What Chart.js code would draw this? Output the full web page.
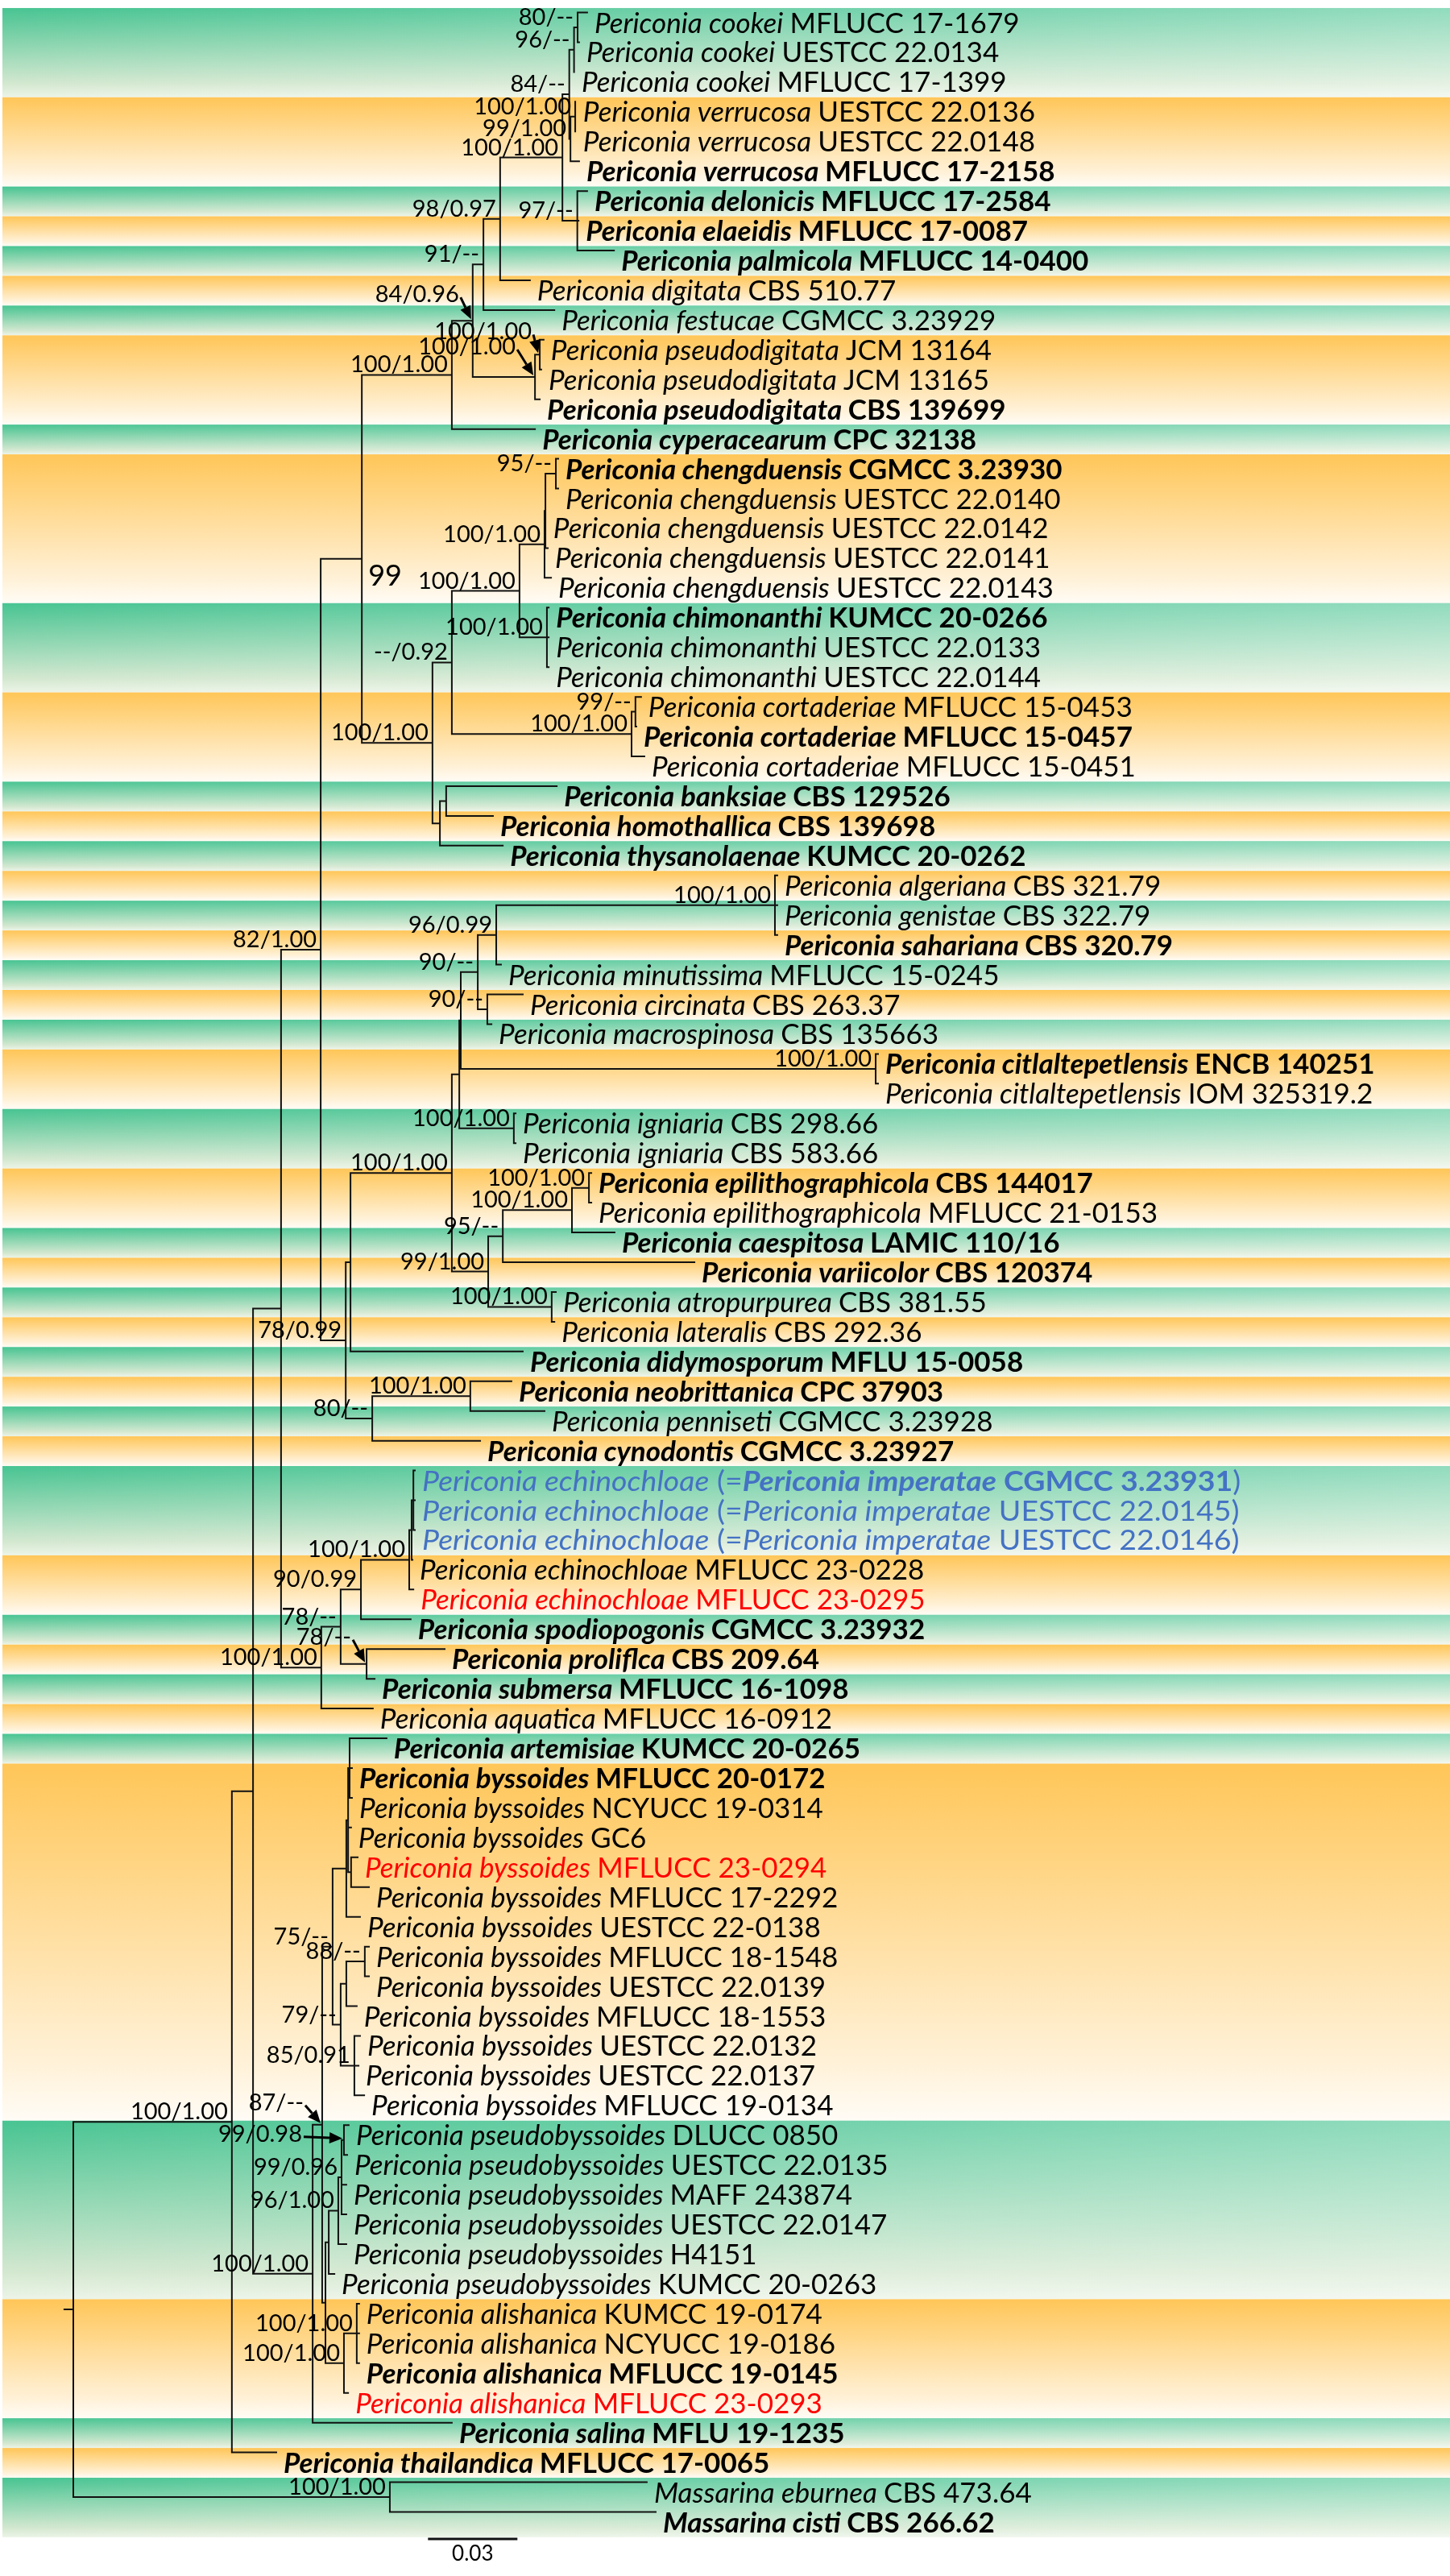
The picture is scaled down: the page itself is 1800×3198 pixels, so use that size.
<!DOCTYPE html>
<html>
<head>
<meta charset="utf-8">
<title>Periconia phylogeny</title>
<script src="https://cdn.jsdelivr.net/npm/chart.js@4.4.0/dist/chart.umd.min.js"></script>
<style>
  body { margin: 0; background: #fff; }
  #treeChart { display: block; }
</style>
</head>
<body>
<canvas id="treeChart" width="1800" height="3198"></canvas>
<script>
// tips, top to bottom
const taxa = [
  'Periconia cookei', 'Periconia cookei', 'Periconia cookei',
  'Periconia verrucosa', 'Periconia verrucosa', 'Periconia verrucosa',
  'Periconia delonicis', 'Periconia elaeidis', 'Periconia palmicola',
  'Periconia digitata', 'Periconia festucae',
  'Periconia pseudodigitata', 'Periconia pseudodigitata', 'Periconia pseudodigitata',
  'Periconia cyperacearum',
  'Periconia chengduensis', 'Periconia chengduensis', 'Periconia chengduensis', 'Periconia chengduensis', 'Periconia chengduensis',
  'Periconia chimonanthi', 'Periconia chimonanthi', 'Periconia chimonanthi',
  'Periconia cortaderiae', 'Periconia cortaderiae', 'Periconia cortaderiae',
  'Periconia banksiae', 'Periconia homothallica', 'Periconia thysanolaenae',
  'Periconia algeriana', 'Periconia genistae', 'Periconia sahariana',
  'Periconia minutissima', 'Periconia circinata', 'Periconia macrospinosa',
  'Periconia citlaltepetlensis', 'Periconia citlaltepetlensis',
  'Periconia igniaria', 'Periconia igniaria',
  'Periconia epilithographicola', 'Periconia epilithographicola',
  'Periconia caespitosa', 'Periconia variicolor',
  'Periconia atropurpurea', 'Periconia lateralis', 'Periconia didymosporum',
  'Periconia neobrittanica', 'Periconia penniseti', 'Periconia cynodontis',
  'Periconia echinochloae', 'Periconia echinochloae', 'Periconia echinochloae', 'Periconia echinochloae', 'Periconia echinochloae',
  'Periconia spodiopogonis', 'Periconia proliflca', 'Periconia submersa', 'Periconia aquatica',
  'Periconia artemisiae',
  'Periconia byssoides', 'Periconia byssoides', 'Periconia byssoides', 'Periconia byssoides',
  'Periconia byssoides', 'Periconia byssoides', 'Periconia byssoides', 'Periconia byssoides',
  'Periconia byssoides', 'Periconia byssoides', 'Periconia byssoides', 'Periconia byssoides',
  'Periconia pseudobyssoides', 'Periconia pseudobyssoides', 'Periconia pseudobyssoides',
  'Periconia pseudobyssoides', 'Periconia pseudobyssoides', 'Periconia pseudobyssoides',
  'Periconia alishanica', 'Periconia alishanica', 'Periconia alishanica', 'Periconia alishanica',
  'Periconia salina', 'Periconia thailandica',
  'Massarina eburnea', 'Massarina cisti'
];

const strains = [
  'MFLUCC 17-1679', 'UESTCC 22.0134', 'MFLUCC 17-1399',
  'UESTCC 22.0136', 'UESTCC 22.0148', 'MFLUCC 17-2158',
  'MFLUCC 17-2584', 'MFLUCC 17-0087', 'MFLUCC 14-0400',
  'CBS 510.77', 'CGMCC 3.23929',
  'JCM 13164', 'JCM 13165', 'CBS 139699',
  'CPC 32138',
  'CGMCC 3.23930', 'UESTCC 22.0140', 'UESTCC 22.0142', 'UESTCC 22.0141', 'UESTCC 22.0143',
  'KUMCC 20-0266', 'UESTCC 22.0133', 'UESTCC 22.0144',
  'MFLUCC 15-0453', 'MFLUCC 15-0457', 'MFLUCC 15-0451',
  'CBS 129526', 'CBS 139698', 'KUMCC 20-0262',
  'CBS 321.79', 'CBS 322.79', 'CBS 320.79',
  'MFLUCC 15-0245', 'CBS 263.37', 'CBS 135663',
  'ENCB 140251', 'IOM 325319.2',
  'CBS 298.66', 'CBS 583.66',
  'CBS 144017', 'MFLUCC 21-0153',
  'LAMIC 110/16', 'CBS 120374',
  'CBS 381.55', 'CBS 292.36', 'MFLU 15-0058',
  'CPC 37903', 'CGMCC 3.23928', 'CGMCC 3.23927',
  'CGMCC 3.23931', 'UESTCC 22.0145', 'UESTCC 22.0146', 'MFLUCC 23-0228', 'MFLUCC 23-0295',
  'CGMCC 3.23932', 'CBS 209.64', 'MFLUCC 16-1098', 'MFLUCC 16-0912',
  'KUMCC 20-0265',
  'MFLUCC 20-0172', 'NCYUCC 19-0314', 'GC6', 'MFLUCC 23-0294',
  'MFLUCC 17-2292', 'UESTCC 22-0138', 'MFLUCC 18-1548', 'UESTCC 22.0139',
  'MFLUCC 18-1553', 'UESTCC 22.0132', 'UESTCC 22.0137', 'MFLUCC 19-0134',
  'DLUCC 0850', 'UESTCC 22.0135', 'MAFF 243874',
  'UESTCC 22.0147', 'H4151', 'KUMCC 20-0263',
  'KUMCC 19-0174', 'NCYUCC 19-0186', 'MFLUCC 19-0145', 'MFLUCC 23-0293',
  'MFLU 19-1235', 'MFLUCC 17-0065',
  'CBS 473.64', 'CBS 266.62'
];

// distance from the root to each tip (substitutions per site)
const tipDepth = [
  0.1724, 0.1697, 0.1681, 0.1686, 0.1686, 0.1697, 0.1724, 0.1695, 0.1814, 0.1532,
  0.1614, 0.1578, 0.1570, 0.1565, 0.1549, 0.1627, 0.1627, 0.1586, 0.1592, 0.1603,
  0.1595, 0.1595, 0.1595, 0.1905, 0.1889, 0.1916, 0.1622, 0.1408, 0.1441, 0.2362,
  0.2362, 0.2362, 0.1435, 0.1508, 0.1403, 0.2700, 0.2700, 0.1484, 0.1484, 0.1738,
  0.1738, 0.1816, 0.2084, 0.1619, 0.1614, 0.1508, 0.1470, 0.1581, 0.1365, 0.1146,
  0.1146, 0.1146, 0.1138, 0.1141, 0.1132, 0.1246, 0.1011, 0.1005, 0.1051, 0.0935,
  0.0935, 0.0932, 0.0954, 0.0992, 0.0962, 0.0992, 0.0992, 0.0951, 0.0962, 0.0957,
  0.0976, 0.0924, 0.0919, 0.0916, 0.0916, 0.0916, 0.0876, 0.0959, 0.0959, 0.0959,
  0.0922, 0.1270, 0.0681, 0.1924, 0.1954
];

// type strains (bold) and newly added / synonymised strains (coloured)
const boldTips = [5, 6, 7, 8, 13, 14, 15, 20, 24, 26, 27, 28, 31, 35, 39, 41, 42, 45, 46, 48, 54, 55, 56, 58, 59, 79, 81, 82, 84];
const blueTips = [49, 50, 51];
const redTips = [53, 62, 80];
const synonymName = 'Periconia imperatae';

// clades: first tip, last tip, depth of the node, support (ML/BI)
const cladeFirst = [0, 0, 3, 3, 0, 6, 0, 0, 0, 11, 11, 0, 0, 15, 15, 15, 20, 15, 23, 23, 15, 26, 26, 15, 0,
  29, 29, 33, 29, 35, 29, 37, 29, 39, 39, 39, 43, 39, 29, 29, 46, 46, 29, 0,
  49, 49, 49, 49, 55, 49, 49, 0,
  58, 62, 58, 58, 65, 65, 68, 65, 58, 71, 71, 71, 71, 77, 77, 71, 58, 58, 0, 0, 83, 0];
const cladeLast = [1, 2, 4, 5, 5, 8, 8, 9, 10, 12, 13, 13, 14, 16, 18, 19, 22, 22, 24, 25, 25, 27, 28, 28, 28,
  31, 32, 34, 34, 36, 36, 38, 38, 40, 41, 42, 44, 44, 44, 45, 47, 48, 48, 48,
  51, 52, 53, 54, 56, 56, 57, 57,
  60, 63, 63, 64, 66, 67, 70, 70, 70, 72, 74, 75, 76, 79, 80, 80, 80, 81, 81, 82, 84, 84];
const cladeDepth = [0.1692, 0.1680, 0.1684, 0.1668, 0.1664, 0.1691, 0.1641, 0.1432, 0.1376, 0.1565,
  0.1549, 0.1340, 0.1270, 0.1619, 0.1584, 0.1581, 0.1589, 0.1497, 0.1886, 0.1873,
  0.1270, 0.1251, 0.1230, 0.1205, 0.0968,
  0.2354, 0.1419, 0.1389, 0.1357, 0.2692, 0.1300, 0.1478, 0.1295, 0.1730, 0.1673,
  0.1441, 0.1605, 0.1392, 0.1270, 0.0930, 0.1332, 0.1003, 0.0914, 0.0830,
  0.1141, 0.1135, 0.1127, 0.0965, 0.0984, 0.0897, 0.0832, 0.0697,
  0.0927, 0.0932, 0.0922, 0.0916, 0.0978, 0.0916, 0.0943, 0.0897, 0.0870, 0.0908,
  0.0900, 0.0889, 0.0857, 0.0951, 0.0908, 0.0846, 0.0835, 0.0803, 0.0603, 0.0532,
  0.1062, 0];
const cladeSupport = ['80/--', '96/--', '100/1.00', '99/1.00', '84/--', '97/--', '100/1.00', '98/0.97', '91/--', '100/1.00',
  '100/1.00', '84/0.96', '100/1.00', '95/--', '', '100/1.00', '100/1.00', '100/1.00', '99/--', '100/1.00',
  '--/0.92', '', '', '100/1.00', '99',
  '100/1.00', '96/0.99', '90/--', '90/--', '100/1.00', '', '100/1.00', '', '100/1.00', '100/1.00',
  '95/--', '100/1.00', '99/1.00', '100/1.00', '', '100/1.00', '80/--', '78/0.99', '82/1.00',
  '', '', '100/1.00', '90/0.99', '78/--', '78/--', '100/1.00', '',
  '', '', '', '', '88/--', '', '85/0.91', '79/--', '75/--', '99/0.98',
  '99/0.96', '96/1.00', '', '100/1.00', '100/1.00', '', '87/--', '100/1.00', '', '100/1.00',
  '100/1.00', ''];

// first tip of each shaded band (green, orange, green, ...)
const bandStarts = [0, 3, 6, 7, 8, 9, 10, 11, 14, 15, 20, 23, 26, 27, 28, 29, 30, 31, 32, 33, 34, 35, 37, 39,
  41, 42, 43, 44, 45, 46, 47, 48, 49, 52, 54, 55, 56, 57, 58, 59, 71, 77, 81, 82, 83];

// scale bar
const scaleBarStart = 0.119;
const scaleBarLength = 0.03;
const scaleBarLabel = '0.03';

// ---- layout of the tree ----
const nLeaf = taxa.length;
const nClade = cladeFirst.length;
const rootStub = 0.003;
const span = c => cladeLast[c] - cladeFirst[c];

function smallestClade(first, last) {
  let best = -1;
  for (let c = 0; c < nClade; c++) {
    if (cladeFirst[c] <= first && cladeLast[c] >= last && !(cladeFirst[c] === first && cladeLast[c] === last)) {
      if (best < 0 || span(c) < span(best)) best = c;
    }
  }
  return best;
}

const leafParent = taxa.map((t, i) => smallestClade(i, i));
const cladeParent = cladeFirst.map((f, c) => smallestClade(f, cladeLast[c]));
const cladeY = new Array(nClade), cladeTop = new Array(nClade), cladeBottom = new Array(nClade);

// children are always smaller clades, so work upwards from the smallest
const order = cladeFirst.map((f, c) => c).sort((a, b) => span(a) - span(b));
order.forEach(c => {
  const ys = [];
  leafParent.forEach((p, i) => { if (p === c) ys.push(i); });
  cladeParent.forEach((p, k) => { if (p === c) ys.push(cladeY[k]); });
  cladeTop[c] = Math.min(...ys);
  cladeBottom[c] = Math.max(...ys);
  cladeY[c] = (cladeTop[c] + cladeBottom[c]) / 2;
});

const branchPoints = [];
function seg(x1, y1, x2, y2) {
  branchPoints.push({ x: x1, y: y1 }, { x: x2, y: y2 }, { x: null, y: null });
}
for (let i = 0; i < nLeaf; i++) seg(cladeDepth[leafParent[i]], i, tipDepth[i], i);
for (let c = 0; c < nClade; c++) {
  seg(cladeDepth[c], cladeTop[c], cladeDepth[c], cladeBottom[c]);
  const p = cladeParent[c];
  if (p >= 0) seg(cladeDepth[p], cladeY[c], cladeDepth[c], cladeY[c]);
  else seg(cladeDepth[c] - rootStub, cladeY[c], cladeDepth[c], cladeY[c]);
}

const scaleY = 84.91;
const scalePoints = [{ x: scaleBarStart, y: scaleY }, { x: scaleBarStart + scaleBarLength, y: scaleY }];

// ---- drawing helpers ----
const FONT = "Lato, 'Noto Sans', sans-serif";
const leafSize = 35;
const supportSize = 29;
// crowded support values are moved off the node and pointed at with an arrow
const supportNudge = { 9: [-5, -16], 10: [-19, -25], 11: [-12, -20], 48: [-14, -21], 61: [-47, 5], 68: [-18, -15] };
const sideLabels = [24];

function drawRuns(ctx, runs, x, y, stretch) {
  ctx.save();
  ctx.translate(x, y);
  ctx.scale(stretch, 1);
  let cx = 0;
  runs.forEach(r => {
    ctx.font = r.font;
    ctx.fillStyle = r.color;
    ctx.fillText(r.text, cx, 0);
    cx += ctx.measureText(r.text).width;
  });
  ctx.restore();
}

function leafRuns(i) {
  const bold = boldTips.includes(i);
  let color = '#000';
  if (blueTips.includes(i)) color = '#4472C4';
  if (redTips.includes(i)) color = '#FF0000';
  const it = (bold ? 'italic bold ' : 'italic ') + leafSize + 'px ' + FONT;
  const up = (bold ? 'bold ' : '') + leafSize + 'px ' + FONT;
  if (blueTips.includes(i)) {
    const first = i === blueTips[0];
    return [
      { text: taxa[i], font: 'italic ' + leafSize + 'px ' + FONT, color },
      { text: ' (=', font: leafSize + 'px ' + FONT, color },
      { text: synonymName, font: (first ? 'italic bold ' : 'italic ') + leafSize + 'px ' + FONT, color },
      { text: ' ' + strains[i], font: (first ? 'bold ' : '') + leafSize + 'px ' + FONT, color },
      { text: ')', font: leafSize + 'px ' + FONT, color }
    ];
  }
  return [
    { text: taxa[i] + ' ', font: it, color },
    { text: strains[i], font: up, color }
  ];
}

function arrow(ctx, x1, y1, x2, y2) {
  const a = Math.atan2(y2 - y1, x2 - x1);
  const head = 16, half = 7;
  ctx.strokeStyle = '#000';
  ctx.fillStyle = '#000';
  ctx.lineWidth = 3;
  ctx.beginPath();
  ctx.moveTo(x1, y1);
  ctx.lineTo(x2 - Math.cos(a) * head, y2 - Math.sin(a) * head);
  ctx.stroke();
  ctx.beginPath();
  ctx.moveTo(x2, y2);
  ctx.lineTo(x2 - Math.cos(a) * head - Math.sin(a) * half, y2 - Math.sin(a) * head + Math.cos(a) * half);
  ctx.lineTo(x2 - Math.cos(a) * head + Math.sin(a) * half, y2 - Math.sin(a) * head - Math.cos(a) * half);
  ctx.closePath();
  ctx.fill();
}

const treeDecor = {
  id: 'treeDecor',
  beforeDatasetsDraw(chart) {
    const { ctx, scales: { x, y }, chartArea } = chart;
    ctx.save();
    ctx.fillStyle = '#fff';
    ctx.fillRect(0, 0, chart.width, chart.height);
    const left = chartArea.left + 3, right = chartArea.right;
    bandStarts.forEach((start, k) => {
      const end = k + 1 < bandStarts.length ? bandStarts[k + 1] - 1 : nLeaf - 1;
      const top = y.getPixelForValue(start - 0.15);
      const bottom = y.getPixelForValue(end + 0.85);
      const green = k % 2 === 0;
      const g = ctx.createLinearGradient(0, top, 0, bottom);
      if (green) {
        g.addColorStop(0, 'rgb(72,196,146)');
        g.addColorStop(0.85, 'rgb(212,232,208)');
        g.addColorStop(1, 'rgb(236,244,232)');
      } else {
        g.addColorStop(0, 'rgb(255,198,88)');
        g.addColorStop(0.85, 'rgb(255,242,218)');
        g.addColorStop(1, 'rgb(255,252,246)');
      }
      ctx.fillStyle = g;
      ctx.fillRect(left, top, right - left, bottom - top);
      if (green) {
        const h = ctx.createLinearGradient(left, 0, right, 0);
        h.addColorStop(0, 'rgba(255,255,255,0)');
        h.addColorStop(1, 'rgba(255,255,255,0.4)');
        ctx.fillStyle = h;
        ctx.fillRect(left, top, right - left, bottom - top);
      }
    });
    ctx.restore();
  },
  afterDatasetsDraw(chart) {
    const { ctx, scales: { x, y } } = chart;
    ctx.save();
    ctx.textAlign = 'left';
    ctx.textBaseline = 'alphabetic';

    // tip labels
    for (let i = 0; i < nLeaf; i++) {
      const px = x.getPixelForValue(tipDepth[i]) + 9;
      const py = y.getPixelForValue(i) + 25;
      drawRuns(ctx, leafRuns(i), px, py, blueTips.includes(i) ? 1.07 : 1);
    }

    // support values
    ctx.fillStyle = '#000';
    for (let c = 0; c < nClade; c++) {
      const s = cladeSupport[c];
      if (!s) continue;
      const nx = x.getPixelForValue(cladeDepth[c]);
      const ny = y.getPixelForValue(cladeY[c]);
      if (sideLabels.includes(c)) {
        ctx.font = '36px ' + FONT;
        ctx.textAlign = 'left';
        ctx.textBaseline = 'top';
        ctx.fillText(s, nx + 8, ny + 4);
        ctx.textBaseline = 'alphabetic';
        continue;
      }
      ctx.font = supportSize + 'px ' + FONT;
      ctx.textAlign = 'right';
      ctx.fillStyle = '#000';
      const nudge = supportNudge[c] || [0, 0];
      const lx = nx - 5 + nudge[0];
      const ly = ny - 3 + nudge[1];
      ctx.fillText(s, lx, ly);
      if (supportNudge[c]) arrow(ctx, lx + 2, ly - 6, nx - 2, ny - 2);
    }

    // scale bar label
    ctx.font = '26px ' + FONT;
    ctx.textAlign = 'center';
    ctx.textBaseline = 'middle';
    ctx.fillStyle = '#000';
    ctx.fillText(scaleBarLabel, x.getPixelForValue(scaleBarStart + scaleBarLength / 2), y.getPixelForValue(scaleY) + 18);
    ctx.restore();
  }
};

new Chart(document.getElementById('treeChart'), {
  type: 'scatter',
  data: {
    datasets: [
      { label: 'branches', data: branchPoints, showLine: true, spanGaps: false, borderColor: '#111', borderWidth: 2,
        borderCapStyle: 'square', pointRadius: 0, pointHoverRadius: 0 },
      { label: 'scale', data: scalePoints, showLine: true, borderColor: '#111', borderWidth: 3,
        pointRadius: 0, pointHoverRadius: 0 }
    ]
  },
  options: {
    responsive: false,
    animation: false,
    devicePixelRatio: 1,
    events: [],
    layout: { padding: 0 },
    plugins: { legend: { display: false }, tooltip: { enabled: false } },
    scales: {
      x: { type: 'linear', display: false, min: -0.024595, max: 0.461892 },
      y: { type: 'linear', display: false, min: -0.4196, max: 86.152, reverse: true }
    }
  },
  plugins: [treeDecor]
});
</script>
</body>
</html>
